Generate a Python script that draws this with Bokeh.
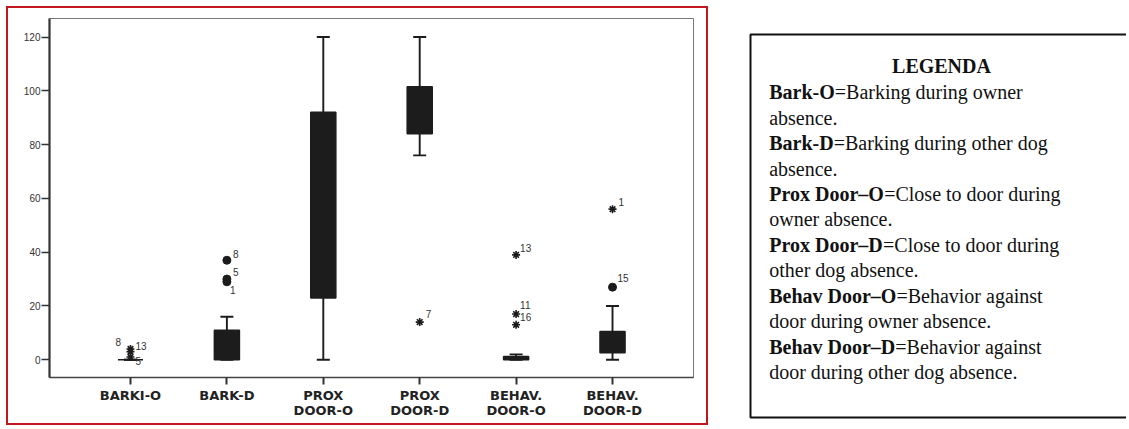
from bokeh.plotting import figure
from bokeh.models import Range1d, FixedTicker, ColumnDataSource
from bokeh.layouts import row, column
from bokeh.embed import file_html
from bokeh.resources import INLINE
from bokeh.core.properties import value

# ---------------- data ----------------
categories = ["BARKI-O", "BARK-D", "PROX\nDOOR-O", "PROX\nDOOR-D", "BEHAV.\nDOOR-O", "BEHAV.\nDOOR-D"]
whisker_low = [0, 0, 0, 76, 0, 0]
box_q1 = [0, 0, 23, 84, 0, 2.6]
box_q3 = [0, 11, 92, 101.5, 1.2, 10.5]
whisker_high = [0, 16, 120, 120, 2, 20]

outlier_cat = [0, 0, 0, 1, 1, 1, 3, 4, 4, 4, 5, 5]
outlier_val = [4, 3, 1, 37, 30, 29, 14, 39, 17, 13, 27, 56]
outlier_id = ["8", "13", "5", "8", "5", "1", "7", "13", "11", "16", "15", "1"]
outlier_kind = ["star", "star", "star", "circle", "circle", "circle",
                "star", "star", "star", "star", "circle", "star"]

y_ticks = [0, 20, 40, 60, 80, 100, 120]

legend_title = "LEGENDA"
legend_terms = ["Bark-O", "Bark-D", "Prox Door\u2013O", "Prox Door\u2013D", "Behav Door\u2013O", "Behav Door\u2013D"]
legend_first = ["=Barking during owner", "=Barking during other dog", "=Close to door during",
                "=Close to door during", "=Behavior against", "=Behavior against"]
legend_second = ["absence.", "absence.", "owner absence.", "other dog absence.",
                 "door during owner absence.", "door during other dog absence."]

# ---------------- style ----------------
label_dx = [-15, 5, 5, 6, 6, 3, 6, 4, 4, 4, 5, 6]
label_dy = [-7, -6, 4, -6, -7, 8, -8, -7, -9, -8, -9, -7]
BOX_W = 0.26
CAP_W = 0.135
DARK = "#1c1c1c"

xs = [i + 1 for i in range(len(categories))]

p = figure(width=702, height=419, x_range=Range1d(0.16, 6.84), y_range=Range1d(-6.6, 126.9),
           output_backend="svg", toolbar_location=None,
           min_border_left=41, min_border_right=17, min_border_top=10, min_border_bottom=50)
p.xgrid.visible = False
p.ygrid.visible = False
p.outline_line_color = "#777777"
p.outline_line_width = 1
p.styles = {"border": "2px solid #c0181e"}
p.margin = (6, 0, 0, 6)

# boxes
src = ColumnDataSource(dict(x=xs, q1=box_q1, q3=box_q3, lo=whisker_low, hi=whisker_high,
                            cl=[x - CAP_W / 2 for x in xs], cr=[x + CAP_W / 2 for x in xs]))
p.segment(x0="x", y0="q3", x1="x", y1="hi", source=src, line_color=DARK, line_width=1.9)
p.segment(x0="x", y0="q1", x1="x", y1="lo", source=src, line_color=DARK, line_width=1.9)
p.segment(x0="cl", y0="hi", x1="cr", y1="hi", source=src, line_color=DARK, line_width=1.9)
p.segment(x0="cl", y0="lo", x1="cr", y1="lo", source=src, line_color=DARK, line_width=1.9)
p.vbar(x="x", width=BOX_W, bottom="q1", top="q3", source=src,
       fill_color=DARK, line_color=DARK, line_width=1.5)

# outliers
ox = [xs[c] for c in outlier_cat]
osrc = ColumnDataSource(dict(x=ox, y=outlier_val, t=outlier_id, dx=label_dx, dy=label_dy))
circ = ColumnDataSource(dict(x=[a for a, k in zip(ox, outlier_kind) if k == "circle"],
                             y=[v for v, k in zip(outlier_val, outlier_kind) if k == "circle"]))
star = ColumnDataSource(dict(x=[a for a, k in zip(ox, outlier_kind) if k == "star"],
                             y=[v for v, k in zip(outlier_val, outlier_kind) if k == "star"]))
p.scatter(x="x", y="y", source=circ, marker="circle", size=8, fill_color=DARK, line_color=DARK)
p.scatter(x="x", y="y", source=star, marker="asterisk", size=8, line_color=DARK, line_width=1.6)
p.text(x="x", y="y", text="t", source=osrc, x_offset="dx", y_offset="dy",
       text_font=value("Liberation Sans"), text_font_size="10px", text_color="#333333",
       text_baseline="middle", text_align="left")

# axes
p.yaxis.ticker = FixedTicker(ticks=y_ticks)
p.yaxis.minor_tick_line_color = None
p.yaxis.major_tick_out = 8
p.yaxis.major_tick_in = 0
p.yaxis.major_tick_line_width = 1.5
p.yaxis.major_tick_line_color = "#333333"
p.yaxis.axis_line_width = 2.2
p.yaxis.axis_line_color = "#333333"
p.yaxis.major_label_text_font = "Liberation Sans"
p.yaxis.major_label_text_font_size = "10px"
p.yaxis.major_label_text_color = "#333333"
p.yaxis.major_label_standoff = 1

p.xaxis.ticker = FixedTicker(ticks=xs)
p.xaxis.major_label_overrides = {x: c for x, c in zip(xs, categories)}
p.xaxis.minor_tick_line_color = None
p.xaxis.major_tick_out = 7
p.xaxis.major_tick_in = 0
p.xaxis.major_tick_line_width = 2
p.xaxis.major_tick_line_color = "#333333"
p.xaxis.axis_line_width = 1.6
p.xaxis.axis_line_color = "#444444"
p.xaxis.major_label_text_font = "DejaVu Sans"
p.xaxis.major_label_text_font_size = "13px"
p.xaxis.major_label_text_font_style = "bold"
p.xaxis.major_label_text_color = "#222222"
p.xaxis.major_label_text_line_height = 1.0
p.xaxis.major_label_standoff = 3

# ---------------- legend panel ----------------
LW, LH = 378, 429
q = figure(width=LW, height=LH, x_range=Range1d(0, LW), y_range=Range1d(LH, 0),
           output_backend="svg", toolbar_location=None, x_axis_type=None, y_axis_type=None,
           min_border=0, min_border_left=0, min_border_right=0, min_border_top=0, min_border_bottom=0)
q.xgrid.visible = False
q.ygrid.visible = False
q.outline_line_color = None
q.line(x=[LW + 20, 2, 2, LW + 20], y=[34, 34, 417, 417], line_color="#111111", line_width=2)

# Times-Bold advance widths (per 1000 em) for the bold terms
bold_w = {"B": 667, "a": 500, "r": 444, "k": 556, "-": 333, "O": 778, "D": 722, "P": 611,
          "o": 500, "x": 500, " ": 250, "\u2013": 500, "e": 444, "h": 556, "v": 500}
FS = 20
X0 = 20.7
Y0 = 91.7
PITCH = 25.45

q.text(x=[193], y=[65], text=[legend_title], text_font=value("Liberation Serif"),
       text_font_size="20px", text_font_style="bold", text_align="center",
       text_baseline="alphabetic", text_color="#111111")

tx, ty, tt = [], [], []
nx, ny, nt = [], [], []
for i, term in enumerate(legend_terms):
    y1 = Y0 + PITCH * 2 * i
    w = sum(bold_w.get(ch, 500) for ch in term) * FS / 1000.0
    tx.append(X0); ty.append(y1); tt.append(term)
    nx.append(X0 + w); ny.append(y1); nt.append(legend_first[i])
    nx.append(X0); ny.append(y1 + PITCH); nt.append(legend_second[i])
q.text(x=tx, y=ty, text=tt, text_font=value("Liberation Serif"), text_font_size="20px",
       text_font_style="bold", text_align="left", text_baseline="alphabetic", text_color="#111111")
q.text(x=nx, y=ny, text=nt, text_font=value("Liberation Serif"), text_font_size="20px",
       text_align="left", text_baseline="alphabetic", text_color="#111111")

layout = row(p, column(q), spacing=40)
open("out.html", "w").write(file_html(layout, INLINE))
